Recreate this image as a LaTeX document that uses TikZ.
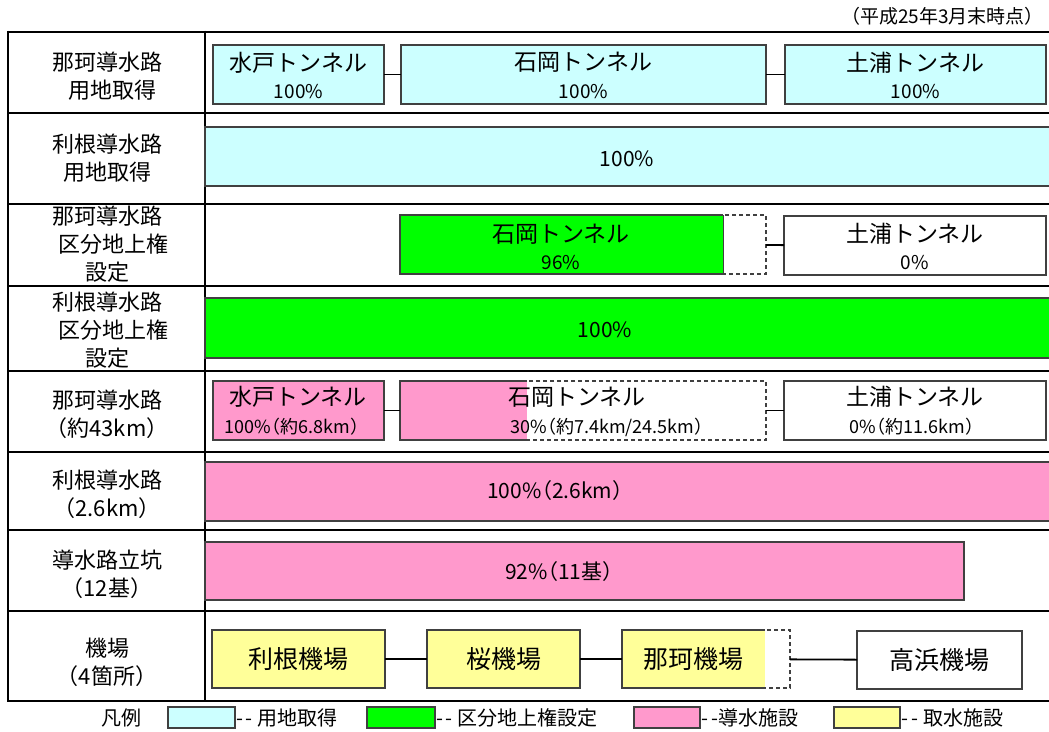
\documentclass[tikz,border=0pt]{standalone}
\usepackage{fontspec}
\setmainfont{Noto Sans CJK JP}
\usetikzlibrary{calc}
\definecolor{cyanl}{HTML}{CCFFFF}
\definecolor{grn}{HTML}{00FF00}
\definecolor{pnk}{HTML}{FF99CC}
\definecolor{ylw}{HTML}{FFFF99}
\definecolor{edgec}{HTML}{404040}
\begin{document}
\begin{tikzpicture}[x=1pt,y=-1pt,
  grid/.style={line width=2.6pt},
  bx/.style={draw=edgec,line width=1.3pt,inner sep=0pt,outer sep=0pt,anchor=north west},
  dbx/.style={draw=edgec,dash pattern=on 4pt off 3pt,line width=1.1pt,inner sep=0pt,outer sep=0pt,anchor=north west},
  solidedge/.style={draw=edgec,line width=1.3pt},
  conn/.style={line width=1.8pt},
  ttl/.style={font=\fontsize{23}{26}\selectfont,inner sep=0pt},
  big/.style={font=\fontsize{25}{28}\selectfont,inner sep=0pt},
  pct/.style={font=\fontsize{19}{22}\selectfont,inner sep=0pt},
  pctm/.style={font=\fontsize{18}{22}\selectfont\addfontfeature{RawFeature=+halt},inner sep=0pt},
  pctl/.style={font=\fontsize{21}{24}\selectfont,inner sep=0pt},
  lbl/.style={font=\fontsize{22}{28}\selectfont,align=center,inner sep=0pt},
  leg/.style={font=\fontsize{20}{22}\selectfont,inner sep=1pt,anchor=west},
]
\useasboundingbox (0,0) rectangle (1049,731);
\clip (0,0) rectangle (1049,731);

% header
\node[font=\fontsize{19}{22}\selectfont,anchor=east,inner sep=0pt] (hdr) at (1044,16) {（平成25年3月末時点）};

% left labels
\node[lbl] (l1) at (107,76) {那珂導水路\\\hspace*{12pt}用地取得};
\node[lbl] (l2) at (107,158.5) {利根導水路\\用地取得};
\node[lbl] (l3) at (107,244) {那珂導水路\\\hspace*{12pt}区分地上権\\設定};
\node[lbl] (l4) at (107,330) {利根導水路\\\hspace*{12pt}区分地上権\\設定};
\node[lbl] (l5) at (107,414) {那珂導水路\\（約43km）};
\node[lbl] (l6) at (107,494) {利根導水路\\（2.6km）};
\node[lbl] (l7) at (107,574) {導水路立坑\\（12基）};
\node[lbl] (l8) at (107,662) {機場\\（4箇所）};

% table grid
\draw[grid] (8,32) -- (1060,32);
\foreach \yy in {113,204,286,371,452,530,611} \draw[grid] (8,\yy) -- (1060,\yy);
\draw[grid] (8,701) -- (1060,701);
\draw[grid] (8,30.7) -- (8,702.3);
\draw[grid] (205,30.7) -- (205,702.3);

% row 1
\node[bx,fill=cyanl,minimum width=171pt,minimum height=59pt] (a1) at (213,45) {};
\node[bx,fill=cyanl,minimum width=365pt,minimum height=59pt] (a2) at (401,45) {};
\node[bx,fill=cyanl,minimum width=261pt,minimum height=59pt] (a3) at (785,45) {};
\draw[conn] (a1) -- (a2);
\draw[conn] (a2) -- (a3);
\node[ttl] (a1t) at ($(a1.center)+(0,-12)$) {水戸トンネル};
\node[pct] (a1p) at ($(a1.center)+(0,17)$) {100\%};
\node[ttl] (a2t) at ($(a2.center)+(0,-12)$) {石岡トンネル};
\node[pct] (a2p) at ($(a2.center)+(0,17)$) {100\%};
\node[ttl] (a3t) at ($(a3.center)+(0,-12)$) {土浦トンネル};
\node[pct] (a3p) at ($(a3.center)+(0,17)$) {100\%};

% row 2
\node[bx,fill=cyanl,minimum width=855pt,minimum height=59pt] (b1) at (205,127) {};
\node[pctl] (b1p) at (627,159) {100\%};

% row 3
\fill[grn] (400,215) rectangle (723,274);
\node[dbx,minimum width=366pt,minimum height=59pt] (c2) at (400,215) {};
\draw[solidedge] (723,215) -- (400,215) -- (400,274) -- (723,274);
\draw[edgec,line width=1pt] (723,215) -- (723,274);
\node[bx,fill=white,minimum width=262pt,minimum height=59pt] (c3) at (784,216) {};
\draw[conn] (c2) -- (c3);
\node[ttl] (c2t) at (561,234) {石岡トンネル};
\node[pct] (c2p) at (561,263) {96\%};
\node[ttl] (c3t) at ($(c3.center)+(0,-12)$) {土浦トンネル};
\node[pct] (c3p) at ($(c3.center)+(0,17)$) {0\%};

% row 4
\node[bx,fill=grn,minimum width=855pt,minimum height=60pt] (d1) at (205,298) {};
\node[pctl] (d1p) at (605,330) {100\%};

% row 5
\node[bx,fill=pnk,minimum width=171pt,minimum height=59pt] (e1) at (213,381) {};
\fill[pnk] (400,381) rectangle (527,440);
\node[dbx,minimum width=366pt,minimum height=59pt] (e2) at (400,381) {};
\draw[solidedge] (527,381) -- (400,381) -- (400,440) -- (527,440);
\node[bx,fill=white,minimum width=262pt,minimum height=59pt] (e3) at (784,381) {};
\draw[conn] (e1) -- (e2);
\draw[conn] (e2) -- (e3);
\node[ttl] (e1t) at (298,397) {水戸トンネル};
\node[pctm] (e1p) at (292,427) {100\%（約6.8km）};
\node[ttl] (e2t) at (577,397) {石岡トンネル};
\node[pctm] (e2p) at (607,427) {30\%（約7.4km/24.5km）};
\node[ttl] (e3t) at (915,397) {土浦トンネル};
\node[pctm] (e3p) at (912,427) {0\%（約11.6km）};

% row 6
\node[bx,fill=pnk,minimum width=855pt,minimum height=59pt] (f1) at (205,462) {};
\node[font=\fontsize{21}{24}\selectfont\addfontfeature{RawFeature=+halt},inner sep=0pt] (f1p) at (555,491) {100\%（2.6km）};

% row 7
\node[bx,fill=pnk,minimum width=759pt,minimum height=58pt] (g1) at (205,542) {};
\node[font=\fontsize{21}{24}\selectfont\addfontfeature{RawFeature=+halt},inner sep=0pt] (g1p) at (559,572) {92\%（11基）};

% row 8
\node[bx,fill=ylw,minimum width=173pt,minimum height=58pt] (h1) at (212,630) {};
\node[bx,fill=ylw,minimum width=153pt,minimum height=58pt] (h2) at (427,630) {};
\fill[ylw] (622,630) rectangle (765,688);
\node[dbx,minimum width=168pt,minimum height=58pt] (h3) at (622,630) {};
\draw[solidedge] (765,630) -- (622,630) -- (622,688) -- (765,688);
\node[bx,fill=white,minimum width=165pt,minimum height=58pt] (h4) at (857,631) {};
\draw[conn] (h1) -- (h2);
\draw[conn] (h2) -- (h3);
\draw[conn] (h3) -- (h4);
\node[big] (h1t) at (h1.center) {利根機場};
\node[big] (h2t) at (h2.center) {桜機場};
\node[big] (h3t) at (693.5,659) {那珂機場};
\node[big] (h4t) at (h4.center) {高浜機場};

% legend
\node[font=\fontsize{20}{22}\selectfont,inner sep=0pt] (lgt) at (121,718) {凡例};
\node[bx,fill=cyanl,minimum width=67pt,minimum height=21pt] (lg1) at (168,707) {};
\node[leg] (lg1t) at (lg1.east) {-\hspace{2pt}-\hspace{5pt}用地取得};
\node[bx,fill=grn,minimum width=68pt,minimum height=21pt] (lg2) at (367,707) {};
\node[leg] (lg2t) at (lg2.east) {-\hspace{2pt}-\hspace{5pt}区分地上権設定};
\node[bx,fill=pnk,minimum width=66pt,minimum height=21pt] (lg3) at (634,707) {};
\node[leg] (lg3t) at (lg3.east) {-\hspace{3pt}-導水施設};
\node[bx,fill=ylw,minimum width=66pt,minimum height=21pt] (lg4) at (834,707) {};
\node[leg] (lg4t) at (lg4.east) {-\hspace{3pt}-\hspace{5pt}取水施設};
\end{tikzpicture}
\end{document}
